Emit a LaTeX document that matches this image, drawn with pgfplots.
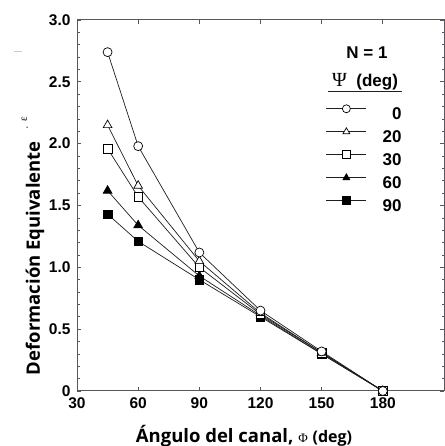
\documentclass[border=0pt]{standalone}
\usepackage{pgfplots}
\pgfplotsset{compat=1.18}
\usepackage{fontspec}
\setmainfont{Liberation Sans}
\newfontfamily\labelfont{Open Sans}
\newfontfamily\seriffont{Liberation Serif}
\definecolor{axisgray}{RGB}{88,88,92}
\definecolor{linegray}{RGB}{30,30,34}
\definecolor{straygray}{RGB}{205,205,210}

\begin{document}
\begin{tikzpicture}
\fill[white] (-77pt,-55pt) rectangle (367pt,391pt);
\begin{axis}[
  at={(0pt,0pt)}, anchor=south west,
  width=367pt, height=371pt, scale only axis,
  xmin=30, xmax=210, ymin=0, ymax=3,
  xtick={30,60,90,120,150,180},
  xticklabels={30,60,90,120,150,180},
  ytick={0,0.5,1,1.5,2,2.5,3},
  yticklabels={0,0.5,1.0,1.5,2.0,2.5,3.0},
  minor y tick num=4,
  tick align=inside,
  major tick length=4pt, minor tick length=2.5pt,
  tick style={axisgray, line width=0.7pt},
  axis line style={axisgray, line width=1pt},
  ticklabel style={font=\bfseries\fontsize{15.5}{18}\selectfont},
  xticklabel style={yshift=-3pt},
  yticklabel style={xshift=-3pt},
  reverse legend,
  legend cell align=right,
  legend style={at={(rel axis cs:0.678,0.772)}, anchor=north west, draw=none, fill=none,
    font=\bfseries\fontsize{17}{20}\selectfont, inner sep=0pt, row sep=8pt,
    nodes={inner sep=0pt, text height=11pt, text depth=0pt}},
  legend image code/.code={
    \draw[mark repeat=2, mark phase=2, mark size=4pt] plot coordinates {(0pt,5.5pt)(20pt,5.5pt)(40pt,5.5pt)};
    \path (56pt,5.5pt);},
  every axis plot/.append style={linegray, line width=0.7pt},
]
\addplot[mark=square*, mark size=4.3pt, mark options={fill=black, draw=black, solid}]
  coordinates {(45,1.43)(60,1.21)(90,0.90)(120,0.60)(150,0.30)(180,0)};
\addlegendentry{90}
\addplot[mark=triangle*, mark size=5pt, mark options={fill=black, draw=black, solid}]
  coordinates {(45,1.62)(60,1.34)(90,0.93)(120,0.61)(150,0.30)(180,0)};
\addlegendentry{60}
\addplot[mark=square*, mark size=4.3pt, mark options={fill=white, draw=black, solid}]
  coordinates {(45,1.96)(60,1.57)(90,1.00)(120,0.62)(150,0.31)(180,0)};
\addlegendentry{30}
\addplot[mark=triangle*, mark size=5pt, mark options={fill=white, draw=black, solid}]
  coordinates {(45,2.15)(60,1.66)(90,1.05)(120,0.63)(150,0.31)(180,0)};
\addlegendentry{20}
\addplot[mark=*, mark size=4.5pt, mark options={fill=white, draw=black, solid}]
  coordinates {(45,2.74)(60,1.98)(90,1.12)(120,0.65)(150,0.32)(180,0)};
\addlegendentry{0}

\node[font=\bfseries\fontsize{17}{20}\selectfont] at (rel axis cs:0.79,0.911) {N = 1};
\node[font=\bfseries\fontsize{17}{20}\selectfont] at (rel axis cs:0.785,0.833)
  {{\seriffont\mdseries\fontsize{20}{22}\selectfont Ψ}\ \ (deg)};
\draw[linegray, line width=1pt] (rel axis cs:0.684,0.806) -- (rel axis cs:0.886,0.806);
\end{axis}
\node[anchor=center, inner sep=0pt, font=\labelfont\bfseries\fontsize{18.5}{22}\selectfont]
  at (-44pt,145pt) {\rotatebox{90}{Deformación Equivalente{\seriffont\mdseries\fontsize{11}{13}\selectfont\hspace{12pt}\raisebox{9pt}{·}\hspace{4pt}\raisebox{13pt}{ε}}}};
\node[anchor=center, font=\labelfont\bfseries\fontsize{18.5}{22}\selectfont]
  at (167pt,-45pt) {Ángulo del canal, {\seriffont\mdseries\fontsize{13}{15}\selectfont Φ} {\fontsize{16}{19}\selectfont (deg)}};
\draw[straygray, line width=1pt] (-63pt,339pt) -- ++(8pt,0);
\pgfresetboundingbox
\path (-77pt,-55pt) rectangle (367pt,391pt);
\end{tikzpicture}
\end{document}
